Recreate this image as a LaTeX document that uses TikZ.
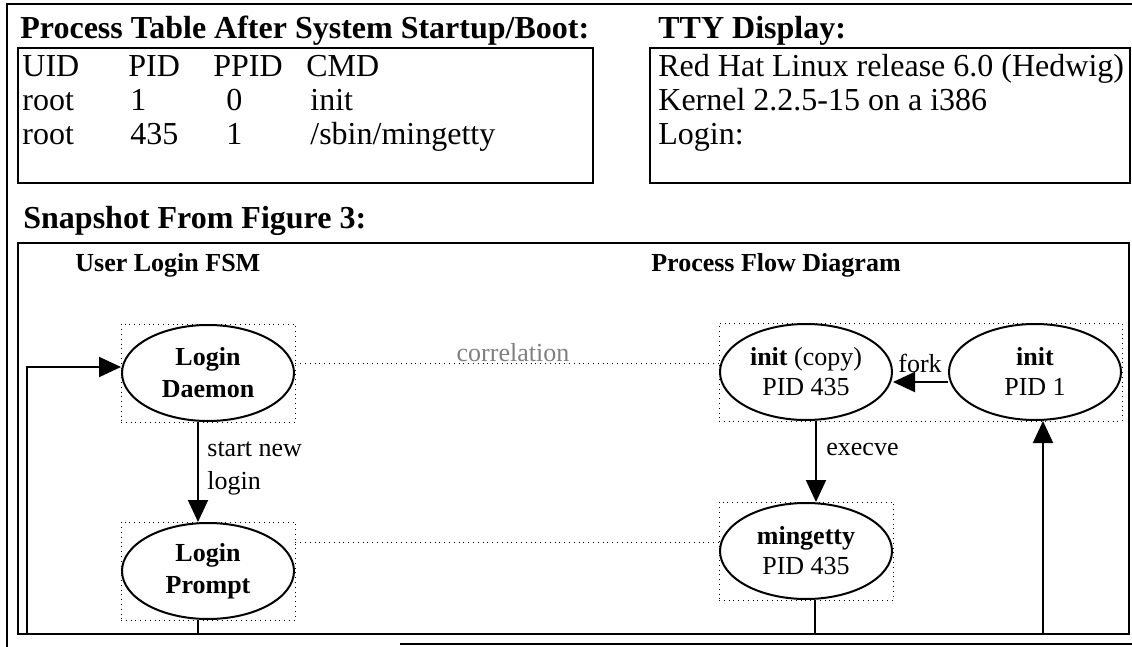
\documentclass[tikz,border=0pt]{standalone}
\usepackage{fontspec}
\setmainfont{Liberation Serif}
\usetikzlibrary{shapes.geometric,arrows.meta,fit}

\tikzset{
  heading/.style={font=\fontsize{16}{19}\selectfont\bfseries, anchor=base west, inner sep=0pt},
  row/.style={font=\fontsize{16}{19}\selectfont, anchor=base west, inner sep=0pt},
  state/.style={draw, ellipse, line width=1pt, minimum width=86pt, minimum height=48pt,
    inner sep=0pt, align=center, font=\fontsize{13}{16}\selectfont\bfseries},
  proc/.style={state, font=\fontsize{13}{15}\selectfont},
  dotbox/.style={draw, dotted, inner sep=0pt},
  arr/.style={line width=1pt, -{Triangle[length=11pt,width=10pt]}},
  lbl/.style={font=\fontsize{13}{16.5}\selectfont, inner sep=0pt},
  frameline/.style={line width=1pt},
}

\begin{document}
\begin{tikzpicture}[x=0.5pt,y=-0.5pt]
    \useasboundingbox (0,0) rectangle (1132,647);

    % outer frame
    \draw[frameline] (1132,4) -- (7,4) -- (7,647);
    \draw[frameline] (400,644) -- (1132,644);

    % process table
    \node[heading] (tabtitle) at (20,39) {Process Table After System Startup/Boot:};
    \draw[frameline] (18,48) rectangle (593,183);
    \node[row] (uidh) at (22,77) {UID};
    \node[row] (pidh) at (128,77) {PID};
    \node[row] (ppidh) at (213,77) {PPID};
    \node[row] (cmdh) at (306,77) {CMD};
    \node[row] (uid1) at (22,111) {root};
    \node[row] (pid1) at (130,111) {1};
    \node[row] (ppid1) at (226,111) {0};
    \node[row] (cmd1) at (310,111) {init};
    \node[row] (uid2) at (22,145) {root};
    \node[row] (pid2) at (130,145) {435};
    \node[row] (ppid2) at (226,145) {1};
    \node[row] (cmd2) at (310,145) {/sbin/mingetty};

    % tty display
    \node[heading] (ttytitle) at (658,39) {TTY Display:};
    \draw[frameline] (650,48) rectangle (1130,183);
    \node[row] (tty1) at (658,77) {Red Hat Linux release 6.0 (Hedwig)};
    \node[row] (tty2) at (658,111) {Kernel 2.2.5-15 on a i386};
    \node[row] (tty3) at (658,145) {Login:};

    % snapshot
    \node[heading] (snaptitle) at (23,229) {Snapshot From Figure 3:};
    \coordinate (fr1) at (18,243);
    \coordinate (fr2) at (1129,634);
    \draw[frameline] (fr1) rectangle (fr2);
    \node[heading, font=\fontsize{13}{16}\selectfont\bfseries] (fsmtitle) at (75,271) {User Login FSM};
    \node[heading, font=\fontsize{13}{16}\selectfont\bfseries, anchor=base] (flowtitle) at (776,271) {Process Flow Diagram};

    % states and processes
    \node[state] (daemon) at (208,373) {Login\\Daemon};
    \node[state] (prompt) at (208,571) {Login\\Prompt};
    \node[proc] (initcopy) at (806,372) {\textbf{init} (copy)\\PID 435};
    \node[proc] (init) at (1035,372) {\textbf{init}\\PID 1};
    \node[proc] (mingetty) at (806,551) {\textbf{mingetty}\\PID 435};

    \node[dotbox, fit=(daemon)] (daemonbox) {};
    \node[dotbox, fit=(prompt)] (promptbox) {};
    \node[dotbox, fit=(initcopy)(init)] (initbox) {};
    \node[dotbox, fit=(mingetty)] (mingettybox) {};

    % connectors
    \coordinate (loopbase) at (27,634);
    \coordinate (promptout) at (198,634);
    \coordinate (getout) at (815,634);
    \coordinate (upbase) at (1043,634);
    \draw[arr] (loopbase) |- ([yshift=3pt]daemon.west);
    \draw[arr] ([xshift=-5pt]daemon.south) -- ([xshift=-5pt]prompt.north);
    \draw[line width=1pt] (promptout |- prompt.south) -- (promptout);
    \draw[arr] ([yshift=-5pt]init.west) -- ([yshift=-5pt]initcopy.east);
    \draw[arr] ([xshift=5pt]initcopy.south) -- ([xshift=5pt]mingetty.north);
    \draw[line width=1pt] (getout |- mingetty.south) -- (getout);
    \draw[arr] (upbase) -- (upbase |- init.south);
    \draw[dotted] ([yshift=5pt]daemonbox.east) -- ([yshift=5pt]daemonbox.east -| initbox.west);
    \draw[dotted] ([yshift=4.5pt]mingettybox.west) -- ([yshift=4.5pt]mingettybox.west -| promptbox.east);

    % labels
    \node[lbl, anchor=base, text=gray] (corrlbl) at (513,362) {correlation};
    \node[lbl, anchor=west, align=left] (startlbl) at (207,468) {start new\\login};
    \node[lbl, anchor=west] (forklbl) at (898,363) {fork};
    \node[lbl, anchor=west] (execlbl) at (826,450) {execve};
\end{tikzpicture}
\end{document}
